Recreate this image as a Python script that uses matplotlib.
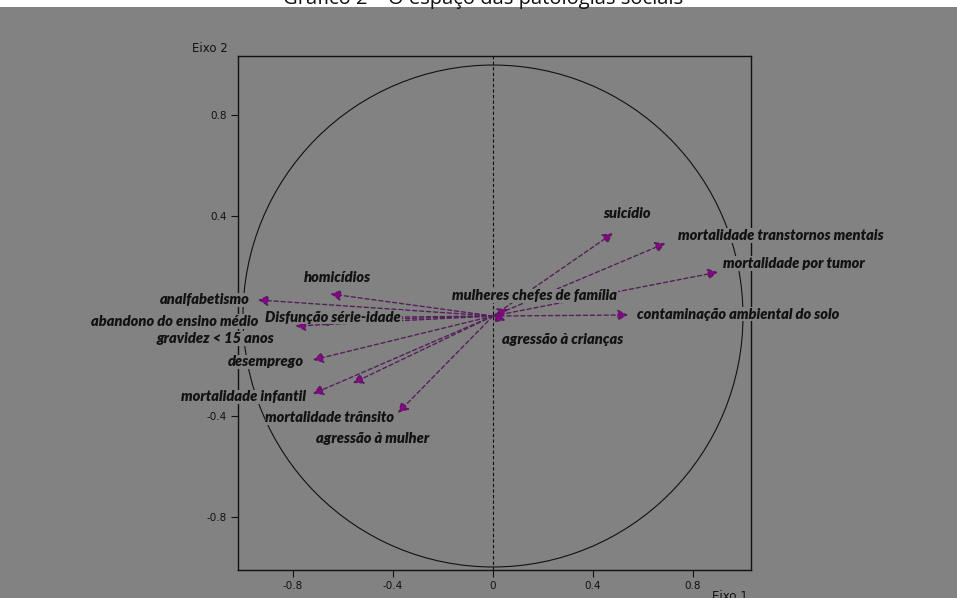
import matplotlib
matplotlib.use("Agg")
import matplotlib.pyplot as plt
import numpy as np
from matplotlib.patches import Circle, Rectangle

# coordenadas das variaveis nos eixos 1 e 2 (circulo de correlacoes)
variaveis = [
    "suicídio",
    "mortalidade transtornos mentais",
    "mortalidade por tumor",
    "contaminação ambiental do solo",
    "mulheres chefes de família",
    "agressão à crianças",
    "homicídios",
    "analfabetismo",
    "Disfunção série-idade",
    "abandono do ensino médio",
    "gravidez < 15 anos",
    "desemprego",
    "mortalidade infantil",
    "mortalidade trânsito",
    "agressão à mulher",
]
eixo1 = [0.48, 0.69, 0.90, 0.54, 0.06, 0.05, -0.65, -0.94, -0.45, -0.70, -0.79, -0.72, -0.72, -0.56, -0.38]
eixo2 = [0.33, 0.29, 0.175, 0.004, 0.028, -0.018, 0.088, 0.064, -0.005, -0.02, -0.04, -0.175, -0.31, -0.267, -0.386]

# onde cada rotulo fica (coordenadas dos dados) e alinhamento
rotulo_pos = {
    "suicídio": (0.536, 0.41, "center"),
    "mortalidade transtornos mentais": (0.74, 0.32, "left"),
    "mortalidade por tumor": (0.92, 0.21, "left"),
    "contaminação ambiental do solo": (0.576, 0.008, "left"),
    "mulheres chefes de família": (0.168, 0.08, "center"),
    "agressão à crianças": (0.28, -0.092, "center"),
    "homicídios": (-0.624, 0.155, "center"),
    "analfabetismo": (-0.975, 0.064, "right"),
    "Disfunção série-idade": (-0.64, -0.004, "center"),
    "abandono do ensino médio": (-0.94, -0.022, "right"),
    "gravidez < 15 anos": (-1.112, -0.09, "center"),
    "desemprego": (-0.908, -0.183, "center"),
    "mortalidade infantil": (-0.996, -0.322, "center"),
    "mortalidade trânsito": (-0.652, -0.404, "center"),
    "agressão à mulher": (-0.48, -0.49, "center"),
}

fundo = "#828282"

fig = plt.figure(figsize=(9.57, 5.98), dpi=100, facecolor=fundo)
W, H = 957, 598
ax = fig.add_axes([238 / W, (H - 570) / H, (751 - 238) / W, (570 - 56) / H])
ax.set_facecolor(fundo)
ax.set_xlim(-1.02, 1.032)
ax.set_ylim(-1.012, 1.036)

# faixa branca do titulo
fig.patches.append(Rectangle((0, 1 - 7 / H), 1, 7 / H, transform=fig.transFigure,
                             facecolor="white", edgecolor="none", zorder=0))
fig.text(483 / W, 1 - 4 / H, "Gráfico 2 – O espaço das patologias sociais",
         ha="center", va="baseline", fontsize=14.5, family="Open Sans", color="#111111")

ax.add_patch(Circle((0, 0), 1, fill=False, edgecolor="#111111", lw=0.8, zorder=1))
ax.axvline(0, color="#111111", lw=0.8, ls=(0, (3, 2)), zorder=1)

for x, y in zip(eixo1, eixo2):
    ax.annotate("", xy=(x, y), xytext=(0, 0),
                arrowprops=dict(arrowstyle="-|>,head_length=0.55,head_width=0.3",
                                edgecolor="#55205a", lw=1.0,
                                linestyle=(0, (3, 2)), shrinkA=0, shrinkB=0,
                                mutation_scale=11, facecolor="#8b008b"),
                zorder=2)

for nome in variaveis:
    lx, ly, ha = rotulo_pos[nome]
    ax.text(lx, ly, nome, ha=ha, va="center", fontsize=10.5, family="Lato",
            weight="heavy", style="italic", color="#121212", zorder=6, clip_on=False,
            bbox=dict(boxstyle="square,pad=0.05", facecolor=fundo, edgecolor="none"))

ax.set_xticks([-0.8, -0.4, 0, 0.4, 0.8])
ax.set_xticklabels(["-0.8", "-0.4", "0", "0.4", "0.8"])
ax.set_yticks([-0.8, -0.4, 0, 0.4, 0.8])
ax.set_yticklabels(["-0.8", "-0.4", "", "0.4", "0.8"])
ax.tick_params(direction="out", length=5, width=0.8, labelsize=7.5,
               colors="#111111", pad=3)
for s in ax.spines.values():
    s.set_linewidth(1.0)
    s.set_color("#111111")

fig.text(192 / W, 1 - 48 / H, "Eixo 2", ha="left", va="center", fontsize=8.5, color="#111111")
fig.text(712 / W, 1 - 596 / H, "Eixo 1", ha="left", va="center", fontsize=8.5, color="#111111")

fig.savefig("out.png", dpi=100, facecolor=fundo)
